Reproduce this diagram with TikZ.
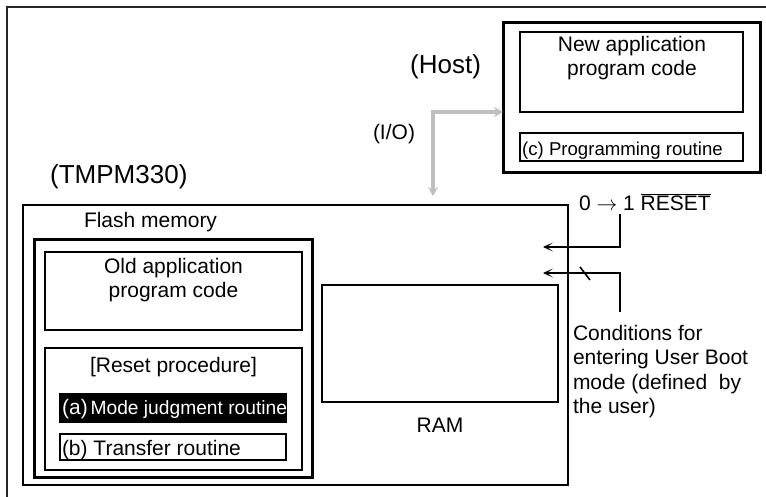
\documentclass[tikz,border=0pt]{standalone}
\usepackage{fontspec}
\setmainfont{Liberation Sans}
\usetikzlibrary{arrows.meta}
\begin{document}
\begin{tikzpicture}[x=1pt,y=-1pt,
  box/.style={draw=black, line width=1.4pt, anchor=north west, inner sep=0pt, outer sep=0pt},
  midbox/.style={box, line width=2.2pt},
  thickbox/.style={box, line width=3pt},
  txt/.style={font=\fontsize{21}{24.5}\selectfont, inner sep=0pt, outer sep=0pt},
  bigtxt/.style={font=\fontsize{26}{30}\selectfont, inner sep=0pt},
  smalltxt/.style={font=\fontsize{18.6}{21}\selectfont, inner sep=0pt},
  ioarrow/.style={draw=black!25, line width=3.5pt, {Stealth[length=9pt,width=10pt,inset=3pt]}-{Stealth[length=9pt,width=10pt,inset=3pt]}},
  sigarrow/.style={draw=black, line width=2pt, -{Stealth[length=10pt,width=9pt,inset=6pt]}},
]
\useasboundingbox (0,0) rectangle (766,496);
% outer frame (left and top edges)
\coordinate (fbl) at (7,497);
\coordinate (ftl) at (7,7);
\coordinate (ftr) at (767,7);
\draw[line width=2pt, black!85] (fbl) -- (ftl) -- (ftr);

% Host
\node[thickbox, minimum width=257pt, minimum height=150pt] (host) at (503,22) {};
\node[box, minimum width=223pt, minimum height=80pt] (newapp) at (520,32) {};
\node[txt, align=center, anchor=base] (newappt) at (632,75.5) {New application\\program code};
\node[box, minimum width=223pt, minimum height=28pt] (prog) at (520,133) {};
\node[smalltxt, anchor=base west] (progt) at (522,155) {(c) Programming routine};
\node[bigtxt, anchor=base west] (hostt) at (410,73) {(Host)};
\node[txt, anchor=base west] (iot) at (373,139) {(I/O)};

% TMPM330
\node[bigtxt, anchor=base west] (tmpt) at (50,183) {(TMPM330)};
\node[midbox, minimum width=545pt, minimum height=280pt] (tmp) at (23,205) {};
\node[txt, anchor=base west] (flasht) at (84,227) {Flash memory};
\node[thickbox, minimum width=278pt, minimum height=238pt] (flash) at (34,239) {};
\node[box, minimum width=257pt, minimum height=78pt] (old) at (45,252) {};
\node[txt, align=center, anchor=base] (oldt) at (173.5,297.5) {Old application\\program code};
\node[box, minimum width=257pt, minimum height=122pt] (reset) at (45,348) {};
\node[txt, anchor=base] (resett) at (173.5,372) {[Reset procedure]};
\node[box, fill=black, minimum width=226pt, minimum height=28pt] (amode) at (60,394) {};
\node[anchor=base west, inner sep=0pt, text=white] (amodet) at (62,414)
  {{\fontsize{21}{24}\selectfont (a)} {\fontsize{19.2}{21}\selectfont Mode judgment routine}};
\node[box, minimum width=226pt, minimum height=26pt] (btr) at (60,434) {};
\node[txt, anchor=base west] (btrt) at (62,455) {(b) Transfer routine};
\node[box, minimum width=236pt, minimum height=117pt] (ram) at (322,285) {};
\node[txt, anchor=base] (ramt) at (440,432) {RAM};

% I/O arrow
\coordinate (ioend) at (433,196);
\coordinate (iocorner) at (433,112);
\coordinate (iohost) at (503,112);
\draw[ioarrow] (ioend) -- (iocorner) -- (iohost);

% RESET signal
\node[txt, anchor=base west] (rst) at (579,210) {0 $\rightarrow$ 1 $\overline{\mbox{RESET}}$};
\coordinate (rsttop) at (620,214);
\coordinate (rstcorner) at (620,247);
\coordinate (rstend) at (543,247);
\draw[sigarrow] (rsttop) -- (rstcorner) -- (rstend);

% Conditions signal
\node[txt, align=left, anchor=north west] (cond) at (573,325)
  {Conditions for\\entering User Boot\\mode (defined~ by\\the user)};
\coordinate (condbot) at (620,312);
\coordinate (condcorner) at (620,273);
\coordinate (condend) at (543,273);
\draw[sigarrow, line width=2.6pt] (condbot) -- (condcorner) -- (condend);
\coordinate (sl1) at (580,267);
\coordinate (sl2) at (590,280);
\draw[line width=1.6pt] (sl1) -- (sl2);
\end{tikzpicture}
\end{document}
